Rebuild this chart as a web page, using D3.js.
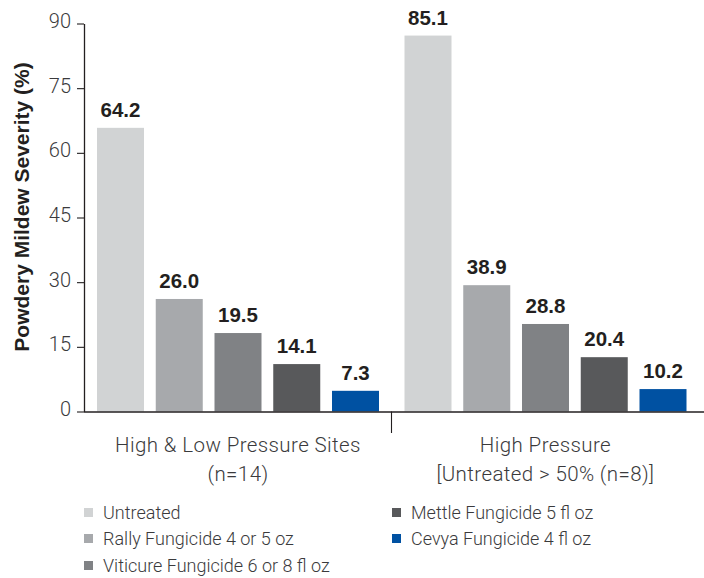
<!DOCTYPE html>
<html>
<head>
<meta charset="utf-8">
<script src="https://cdn.jsdelivr.net/npm/d3@7"></script>
<style>
  html, body { margin: 0; padding: 0; background: #fff; }
  svg { display: block; }
  .light { font-family: "Roboto", "Helvetica Neue", "Liberation Sans", Arial, sans-serif; font-weight: 300; fill: #3a3a3c; }
  .bold { font-family: "Liberation Sans", Arial, sans-serif; font-weight: bold; fill: #231f20; }
</style>
</head>
<body>
<svg id="chart" width="704" height="578"></svg>
<script>
// ---- data ----
const groups = ["High & Low Pressure Sites", "High Pressure"];
const groupSubLabels = ["(n=14)", "[Untreated > 50% (n=8)]"];
const series = ["Untreated", "Rally Fungicide 4 or 5 oz", "Viticure Fungicide 6 or 8 fl oz", "Mettle Fungicide 5 fl oz", "Cevya Fungicide 4 fl oz"];
const seriesColors = ["#d1d3d4", "#a7a9ac", "#808285", "#58595b", "#0051a2"];
// bar heights as drawn in the picture
const barsHighLow = [65.8, 26.1, 18.2, 11.0, 4.8];
const barsHighPressure = [87.2, 29.3, 20.3, 12.6, 5.2];
// value labels printed above bars
const labelsHighLow = ["64.2", "26.0", "19.5", "14.1", "7.3"];
const labelsHighPressure = ["85.1", "38.9", "28.8", "20.4", "10.2"];
const yTicks = [0, 15, 30, 45, 60, 75, 90];
const yTitle = "Powdery Mildew Severity (%)";

const barValues = [barsHighLow, barsHighPressure];
const barLabels = [labelsHighLow, labelsHighPressure];

const svg = d3.select("#chart");

const y = d3.scaleLinear().domain([0, 90]).range([411.5, 23.5]);
const x0 = d3.scaleBand().domain(groups).range([84, 699]).padding(0);
const x1 = d3.scaleBand().domain(series).range([13, 295]).paddingInner(0.2).paddingOuter(0);
const color = d3.scaleOrdinal().domain(series).range(seriesColors);

// bars
groups.forEach((g, gi) => {
  const gEl = svg.append("g").attr("transform", `translate(${x0(g)},0)`);
  series.forEach((s, si) => {
    const v = barValues[gi][si];
    gEl.append("rect")
      .attr("x", x1(s))
      .attr("y", y(v))
      .attr("width", x1.bandwidth())
      .attr("height", y(0) - y(v))
      .attr("fill", color(s));
    gEl.append("text")
      .attr("class", "bold")
      .attr("x", x1(s) + x1.bandwidth() / 2)
      .attr("y", y(v) - 11)
      .attr("text-anchor", "middle")
      .attr("font-size", 20.5)
      .text(barLabels[gi][si]);
  });
});

// y axis
const yAxis = d3.axisLeft(y).tickValues(yTicks).tickSize(7).tickPadding(6).tickSizeOuter(0);
const ya = svg.append("g").attr("transform", "translate(84,0)").call(yAxis);
ya.select(".domain").attr("stroke", "#231f20").attr("stroke-width", 1.3);
ya.selectAll(".tick line").attr("stroke", "#231f20").attr("stroke-width", 1.1);
ya.selectAll(".tick text")
  .attr("class", "light")
  .attr("font-size", 20)
  .attr("dy", null)
  .attr("y", 4)
  .attr("fill", "#3a3a3c");

// x baseline
svg.append("line")
  .attr("x1", 84).attr("x2", 704)
  .attr("y1", y(0) + 0.5).attr("y2", y(0) + 0.5)
  .attr("stroke", "#231f20").attr("stroke-width", 1.3);

// group separator tick
svg.append("line")
  .attr("x1", x0(groups[1])).attr("x2", x0(groups[1]))
  .attr("y1", y(0)).attr("y2", 433)
  .attr("stroke", "#231f20").attr("stroke-width", 1.1);

// category labels
groups.forEach((g, gi) => {
  const cx = x0(g) + (x1.range()[0] + x1.range()[1]) / 2;
  svg.append("text").attr("class", "light")
    .attr("x", cx).attr("y", 452).attr("text-anchor", "middle")
    .attr("font-size", 20.5).attr("letter-spacing", 0.4).text(g);
  svg.append("text").attr("class", "light")
    .attr("x", cx).attr("y", 481).attr("text-anchor", "middle")
    .attr("font-size", 20.5).attr("letter-spacing", 0.4).text(groupSubLabels[gi]);
});

// y title
svg.append("text").attr("class", "bold")
  .attr("transform", "translate(29,207) rotate(-90)")
  .attr("text-anchor", "middle")
  .attr("font-size", 21)
  .text(yTitle);

// legend
const legendPos = [
  [84, 519], [84, 545], [84, 572],
  [392, 519], [392, 545]
];
series.forEach((s, i) => {
  const [lx, ly] = legendPos[i];
  svg.append("rect")
    .attr("x", lx).attr("y", ly - 11).attr("width", 9).attr("height", 9)
    .attr("fill", color(s));
  svg.append("text").attr("class", "light")
    .attr("x", lx + 19).attr("y", ly)
    .attr("font-size", 18).text(s);
});
</script>
</body>
</html>
